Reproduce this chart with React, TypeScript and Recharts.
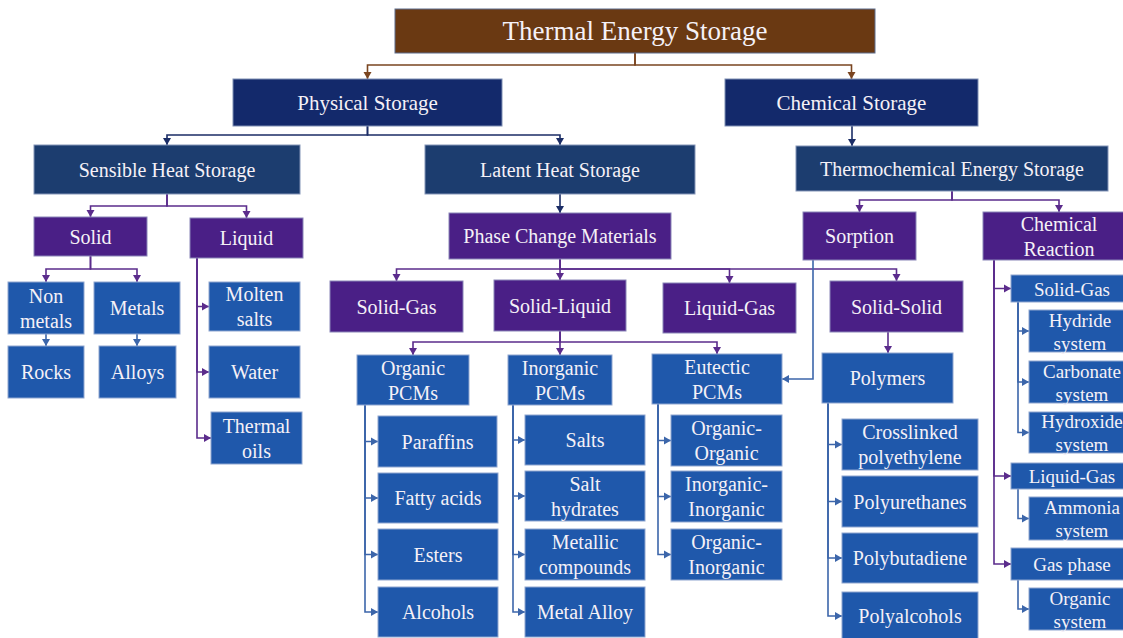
import { Scatter, ScatterChart, XAxis, YAxis } from "recharts";

// Diagram space is 1123 x 638 units; the axes map it 1:1 onto the chart.
const SPAN_X = 1123;
const SPAN_Y = 638;

type Box = { id: string; label: string; x0: number; x1: number; y0: number; y1: number };

const rootNodes: Box[] = [{ id: "tes", label: "Thermal Energy Storage", x0: 395, x1: 875, y0: 9, y1: 53 }];

const storageNodes: Box[] = [
  { id: "phys", label: "Physical Storage", x0: 233, x1: 502, y0: 79, y1: 126 },
  { id: "chem", label: "Chemical Storage", x0: 725, x1: 978, y0: 79, y1: 126 },
];

const methodNodes: Box[] = [
  { id: "sens", label: "Sensible Heat Storage", x0: 34, x1: 300, y0: 145, y1: 194 },
  { id: "lat", label: "Latent Heat Storage", x0: 425, x1: 695, y0: 145, y1: 194 },
  { id: "thermo", label: "Thermochemical Energy Storage", x0: 796, x1: 1108, y0: 146, y1: 191 },
];

const familyNodes: Box[] = [
  { id: "solid", label: "Solid", x0: 34, x1: 147, y0: 217, y1: 256 },
  { id: "liquid", label: "Liquid", x0: 190, x1: 303, y0: 218, y1: 258 },
  { id: "pcm", label: "Phase Change Materials", x0: 449, x1: 671, y0: 213, y1: 259 },
  { id: "sorp", label: "Sorption", x0: 803, x1: 916, y0: 212, y1: 260 },
  { id: "chemr", label: "Chemical\nReaction", x0: 983, x1: 1135, y0: 212, y1: 260 },
  { id: "sg", label: "Solid-Gas", x0: 330, x1: 463, y0: 281, y1: 332 },
  { id: "sl", label: "Solid-Liquid", x0: 494, x1: 626, y0: 280, y1: 331 },
  { id: "lg", label: "Liquid-Gas", x0: 663, x1: 796, y0: 283, y1: 333 },
  { id: "ss", label: "Solid-Solid", x0: 830, x1: 963, y0: 281, y1: 332 },
];

const materialNodes: Box[] = [
  { id: "nonm", label: "Non\nmetals", x0: 8, x1: 84, y0: 282, y1: 334 },
  { id: "metals", label: "Metals", x0: 94, x1: 180, y0: 282, y1: 334 },
  { id: "rocks", label: "Rocks", x0: 8, x1: 84, y0: 346, y1: 398 },
  { id: "alloys", label: "Alloys", x0: 99, x1: 176, y0: 346, y1: 398 },
  { id: "molten", label: "Molten\nsalts", x0: 209, x1: 300, y0: 282, y1: 331 },
  { id: "water", label: "Water", x0: 209, x1: 300, y0: 346, y1: 398 },
  { id: "oils", label: "Thermal\noils", x0: 211, x1: 302, y0: 412, y1: 464 },
  { id: "org", label: "Organic\nPCMs", x0: 357, x1: 469, y0: 355, y1: 405 },
  { id: "inorg", label: "Inorganic\nPCMs", x0: 508, x1: 612, y0: 355, y1: 405 },
  { id: "eut", label: "Eutectic\nPCMs", x0: 652, x1: 782, y0: 354, y1: 404 },
  { id: "poly", label: "Polymers", x0: 822, x1: 953, y0: 353, y1: 403 },
  { id: "paraffins", label: "Paraffins", x0: 378, x1: 497, y0: 416, y1: 467 },
  { id: "fatty", label: "Fatty acids", x0: 378, x1: 498, y0: 473, y1: 523 },
  { id: "esters", label: "Esters", x0: 378, x1: 498, y0: 529, y1: 580 },
  { id: "alcohols", label: "Alcohols", x0: 378, x1: 498, y0: 587, y1: 637 },
  { id: "salts", label: "Salts", x0: 525, x1: 645, y0: 415, y1: 465 },
  { id: "salthyd", label: "Salt\nhydrates", x0: 525, x1: 645, y0: 471, y1: 521 },
  { id: "metallic", label: "Metallic\ncompounds", x0: 525, x1: 645, y0: 529, y1: 580 },
  { id: "metalalloy", label: "Metal Alloy", x0: 525, x1: 645, y0: 587, y1: 637 },
  { id: "oo", label: "Organic-\nOrganic", x0: 671, x1: 782, y0: 415, y1: 466 },
  { id: "ii", label: "Inorganic-\nInorganic", x0: 671, x1: 782, y0: 471, y1: 522 },
  { id: "oi", label: "Organic-\nInorganic", x0: 671, x1: 782, y0: 529, y1: 580 },
  { id: "xlpe", label: "Crosslinked\npolyethylene", x0: 842, x1: 978, y0: 419, y1: 470 },
  { id: "pu", label: "Polyurethanes", x0: 842, x1: 978, y0: 476, y1: 527 },
  { id: "pb", label: "Polybutadiene", x0: 842, x1: 978, y0: 533, y1: 583 },
  { id: "pa", label: "Polyalcohols", x0: 842, x1: 978, y0: 592, y1: 640 },
];

const reactionNodes: Box[] = [
  { id: "crsg", label: "Solid-Gas", x0: 1011, x1: 1133, y0: 275, y1: 302 },
  { id: "hyd", label: "Hydride\nsystem", x0: 1029, x1: 1131, y0: 310, y1: 352 },
  { id: "carb", label: "Carbonate\nsystem", x0: 1029, x1: 1135, y0: 361, y1: 403 },
  { id: "hydrox", label: "Hydroxide\nsystem", x0: 1029, x1: 1135, y0: 412, y1: 453 },
  { id: "crlg", label: "Liquid-Gas", x0: 1011, x1: 1133, y0: 463, y1: 489 },
  { id: "amm", label: "Ammonia\nsystem", x0: 1029, x1: 1135, y0: 497, y1: 540 },
  { id: "gas", label: "Gas phase", x0: 1011, x1: 1133, y0: 548, y1: 580 },
  { id: "orgsys", label: "Organic\nsystem", x0: 1029, x1: 1131, y0: 588, y1: 630 },
];

// [from, to, routing, bus y / trunk x]
type Edge = [string, string, "bus" | "drop" | "side" | "left", number];

const brownEdges: Edge[] = [
  ["tes", "phys", "bus", 65],
  ["tes", "chem", "bus", 65],
];

const navyEdges: Edge[] = [
  ["phys", "sens", "bus", 135],
  ["phys", "lat", "bus", 135],
  ["chem", "thermo", "drop", 852],
  ["lat", "pcm", "drop", 560],
];

const purpleEdges: Edge[] = [
  ["sens", "solid", "bus", 206],
  ["sens", "liquid", "bus", 206],
  ["solid", "nonm", "bus", 269],
  ["solid", "metals", "bus", 269],
  ["liquid", "molten", "side", 197],
  ["liquid", "water", "side", 197],
  ["liquid", "oils", "side", 197],
  ["pcm", "sg", "bus", 269],
  ["pcm", "sl", "bus", 269],
  ["pcm", "lg", "bus", 269],
  ["pcm", "ss", "bus", 269],
  ["sl", "org", "bus", 342],
  ["sl", "inorg", "bus", 342],
  ["sl", "eut", "bus", 342],
  ["thermo", "sorp", "bus", 200],
  ["thermo", "chemr", "bus", 200],
  ["ss", "poly", "drop", 888],
  ["chemr", "crsg", "side", 994],
  ["chemr", "crlg", "side", 994],
  ["chemr", "gas", "side", 994],
];

const blueEdges: Edge[] = [
  ["nonm", "rocks", "drop", 46],
  ["metals", "alloys", "drop", 137],
  ["org", "paraffins", "side", 365],
  ["org", "fatty", "side", 365],
  ["org", "esters", "side", 365],
  ["org", "alcohols", "side", 365],
  ["inorg", "salts", "side", 513],
  ["inorg", "salthyd", "side", 513],
  ["inorg", "metallic", "side", 513],
  ["inorg", "metalalloy", "side", 513],
  ["eut", "oo", "side", 658],
  ["eut", "ii", "side", 658],
  ["eut", "oi", "side", 658],
  ["poly", "xlpe", "side", 828],
  ["poly", "pu", "side", 828],
  ["poly", "pb", "side", 828],
  ["poly", "pa", "side", 828],
  ["sorp", "eut", "left", 813],
  ["crsg", "hyd", "side", 1018],
  ["crsg", "carb", "side", 1018],
  ["crsg", "hydrox", "side", 1018],
  ["crlg", "amm", "side", 1018],
  ["gas", "orgsys", "side", 1018],
];

const FONT = '"Liberation Serif", "DejaVu Serif", "Times New Roman", serif';

const TIERS = [
  { nodes: rootNodes, fill: "#6a3912", stroke: "#5d6d8c", size: 27, lh: 30 },
  { nodes: storageNodes, fill: "#13296b", stroke: "#7f8fb4", size: 21, lh: 24 },
  { nodes: methodNodes, fill: "#1c3d6f", stroke: "#8495b8", size: 20, lh: 24 },
  { nodes: familyNodes, fill: "#4a1f86", stroke: "#8a86b8", size: 20, lh: 25 },
  { nodes: materialNodes, fill: "#1f58ab", stroke: "#8fa6d0", size: 20, lh: 25 },
  { nodes: reactionNodes, fill: "#1f58ab", stroke: "#8fa6d0", size: 19, lh: 23 },
];

const EDGE_GROUPS = [
  { edges: brownEdges, color: "#7a4520" },
  { edges: navyEdges, color: "#1b2d66" },
  { edges: purpleEdges, color: "#5b2c8c" },
  { edges: blueEdges, color: "#3c66aa" },
];

const allNodes = TIERS.flatMap((t) => t.nodes);
const byId: Record<string, Box> = Object.fromEntries(allNodes.map((n) => [n.id, n]));

type Pt = { x: number; y: number; dir?: "down" | "right" | "left" };

function route([from, to, kind, at]: Edge): Pt[] {
  const p = byId[from];
  const c = byId[to];
  const pcx = (p.x0 + p.x1) / 2;
  const ccx = (c.x0 + c.x1) / 2;
  const ccy = (c.y0 + c.y1) / 2;
  if (kind === "bus")
    return [
      { x: pcx, y: p.y1 },
      { x: pcx, y: at },
      { x: ccx, y: at },
      { x: ccx, y: c.y0, dir: "down" },
    ];
  if (kind === "drop")
    return [
      { x: at, y: p.y1 },
      { x: at, y: c.y0, dir: "down" },
    ];
  if (kind === "side")
    return [
      { x: at, y: p.y1 },
      { x: at, y: ccy },
      { x: c.x0, y: ccy, dir: "right" },
    ];
  return [
    { x: at, y: p.y1 },
    { x: at, y: ccy },
    { x: c.x1, y: ccy, dir: "left" },
  ];
}

function Arrowhead({ cx, cy, payload, color }: any) {
  if (!payload?.dir) return <g />;
  const L = 7;
  const hw = 4;
  let pts = "";
  if (payload.dir === "down") pts = `${cx},${cy} ${cx - hw},${cy - L} ${cx + hw},${cy - L}`;
  else if (payload.dir === "right") pts = `${cx},${cy} ${cx - L},${cy - hw} ${cx - L},${cy + hw}`;
  else pts = `${cx},${cy} ${cx + L},${cy - hw} ${cx + L},${cy + hw}`;
  return <polygon points={pts} fill={color} />;
}

function NodeBox({ cx, cy, payload, tier }: any) {
  const w = payload.x1 - payload.x0;
  const h = payload.y1 - payload.y0;
  const lines: string[] = payload.label.split("\n");
  const top = cy - ((lines.length - 1) * tier.lh) / 2;
  return (
    <g>
      <rect
        x={cx - w / 2}
        y={cy - h / 2}
        width={w}
        height={h}
        fill={tier.fill}
        stroke={tier.stroke}
        strokeWidth={1}
      />
      <text
        textAnchor="middle"
        dominantBaseline="central"
        fill="#f5f1f7"
        style={{ fontFamily: FONT, fontSize: tier.size }}
      >
        {lines.map((ln, i) => (
          <tspan key={i} x={cx} y={top + i * tier.lh}>
            {ln}
          </tspan>
        ))}
      </text>
    </g>
  );
}

export default function App() {
  return (
    <div style={{ position: "absolute", left: 0, top: 0, background: "#ffffff", fontFamily: FONT }}>
      <ScatterChart width={SPAN_X} height={SPAN_Y} margin={{ top: 0, right: 0, bottom: 0, left: 0 }}>
        <XAxis type="number" dataKey="x" domain={[0, SPAN_X]} allowDataOverflow hide />
        <YAxis type="number" dataKey="y" domain={[0, SPAN_Y]} allowDataOverflow reversed hide />
        {EDGE_GROUPS.flatMap((g, gi) =>
          g.edges.map((e, i) => (
            <Scatter
              key={`e${gi}-${i}`}
              data={route(e)}
              line={{ stroke: g.color, strokeWidth: 1.6 }}
              lineType="joint"
              shape={(p: any) => <Arrowhead {...p} color={g.color} />}
              isAnimationActive={false}
            />
          ))
        )}
        {TIERS.map((t, ti) => (
          <Scatter
            key={`n${ti}`}
            data={t.nodes.map((n) => ({ ...n, x: (n.x0 + n.x1) / 2, y: (n.y0 + n.y1) / 2 }))}
            shape={(p: any) => <NodeBox {...p} tier={t} />}
            isAnimationActive={false}
          />
        ))}
      </ScatterChart>
    </div>
  );
}
